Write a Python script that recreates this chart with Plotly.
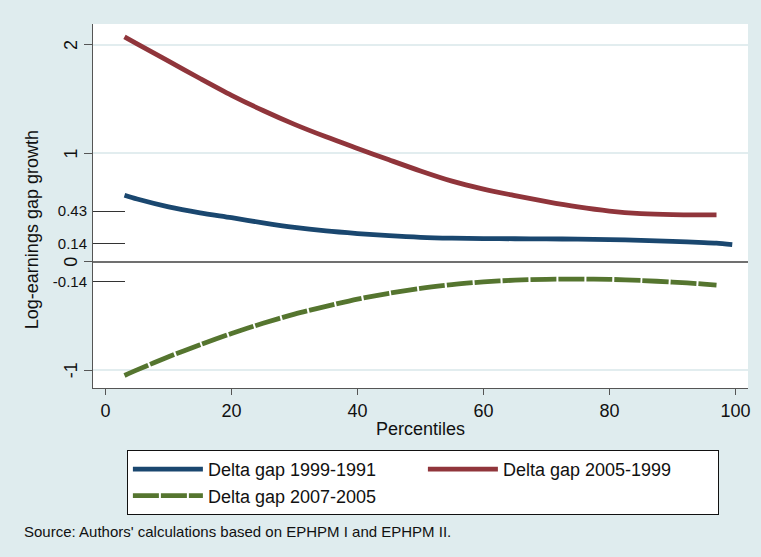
import plotly.graph_objects as go

# ---- data ----
pct = [3, 5, 10, 15, 20, 25, 30, 35, 40, 45, 50, 55, 60, 65, 70, 75, 80, 85, 90, 95, 97]

gap_1999_1991 = [0.613, 0.578, 0.506, 0.451, 0.406, 0.358, 0.316, 0.284, 0.260, 0.240, 0.225,
                 0.217, 0.213, 0.212, 0.211, 0.208, 0.204, 0.197, 0.187, 0.177, 0.171]
pct_blue_tail = [99.5]
gap_1999_1991_tail = [0.158]

gap_2005_1999 = [2.075, 2.01, 1.85, 1.69, 1.535, 1.395, 1.267, 1.152, 1.045, 0.940, 0.837,
                 0.743, 0.670, 0.610, 0.554, 0.505, 0.467, 0.444, 0.434, 0.432, 0.432]

gap_2007_2005 = [-1.05, -0.998, -0.877, -0.766, -0.662, -0.568, -0.483, -0.412, -0.345, -0.291,
                 -0.246, -0.211, -0.186, -0.170, -0.162, -0.160, -0.163, -0.173, -0.188, -0.206, -0.215]

series_names = ["Delta gap 1999-1991", "Delta gap 2005-1999", "Delta gap 2007-2005"]

x_ticks = [0, 20, 40, 60, 80, 100]
y_major_ticks = [-1, 0, 1, 2]
y_major_labels = ["-1", "0", "1", "2"]
# secondary labels sit at the curve end points
y_minor_pos = [0.467, 0.17, -0.184]
y_minor_labels = ["0.43", "0.14", "-0.14"]

BG = "#DFECEE"
GRID = "#E2EDEF"
FONT = "Liberation Sans, Arial, sans-serif"
X_RANGE = [-2.0, 102.0]
Y_RANGE = [-1.165, 2.193]

fig = go.Figure()

fig.add_trace(go.Scatter(
    x=pct + pct_blue_tail, y=gap_1999_1991 + gap_1999_1991_tail, mode="lines",
    name=series_names[0], line=dict(color="#1A476F", width=4.8, shape="spline", smoothing=0.8),
))
fig.add_trace(go.Scatter(
    x=pct, y=gap_2005_1999, mode="lines",
    name=series_names[1], line=dict(color="#90353B", width=4.8, shape="spline", smoothing=0.8),
))
fig.add_trace(go.Scatter(
    x=pct, y=gap_2007_2005, mode="lines",
    name=series_names[2],
    line=dict(color="#55752F", width=4.8, shape="spline", smoothing=0.8, dash="26px,2px"),
))
# helper trace so the second (label) axis is rendered
fig.add_trace(go.Scatter(x=[None], y=[None], yaxis="y2", showlegend=False, hoverinfo="skip"))

# rotated major y tick labels, placed on the y scale
major_label_annotations = [
    dict(text=lab, textangle=-90, font=dict(size=18), xref="paper", yref="y",
         x=(71 - 93) / 657, y=val, xanchor="center", yanchor="middle", showarrow=False)
    for val, lab in zip(y_major_ticks, y_major_labels)
]

fig.update_layout(
    width=761, height=557,
    paper_bgcolor=BG, plot_bgcolor="white",
    margin=dict(l=93, r=11, t=24, b=169),
    font=dict(family=FONT, size=17, color="#111111"),
    xaxis=dict(
        range=X_RANGE, tickvals=x_ticks, showgrid=False, zeroline=False,
        showline=True, linecolor="#555555", linewidth=1,
        ticks="outside", ticklen=6, tickcolor="#555555",
        tickfont=dict(size=18),
        title=dict(text="Percentiles", font=dict(size=18), standoff=2),
    ),
    yaxis=dict(
        range=Y_RANGE, tickvals=y_major_ticks, showticklabels=False,
        showgrid=True, gridcolor=GRID, gridwidth=1.5,
        zeroline=True, zerolinecolor="#707070", zerolinewidth=1.5,
        showline=True, linecolor="#555555", linewidth=1,
        ticks="outside", ticklen=8, tickcolor="#555555",
    ),
    yaxis2=dict(
        range=Y_RANGE, overlaying="y", side="left", anchor="x",
        tickvals=y_minor_pos, ticktext=y_minor_labels,
        showgrid=False, zeroline=False, showline=False,
        ticks="inside", ticklen=32, tickcolor="#333333", tickwidth=1,
        tickfont=dict(size=15), ticklabelstandoff=5,
    ),
    legend=dict(
        orientation="h", x=(127 - 93) / 657, y=(388 - 450) / 364, xanchor="left", yanchor="top",
        bgcolor="white", bordercolor="#111111", borderwidth=1,
        font=dict(size=18), entrywidth=210, entrywidthmode="pixels",
        itemwidth=70, tracegroupgap=0,
    ),
    annotations=major_label_annotations + [
        dict(text="Log-earnings gap growth", textangle=-90, font=dict(size=18),
             xref="paper", yref="paper", x=(32 - 93) / 657, y=(388 - 230) / 364,
             xanchor="center", yanchor="middle", showarrow=False),
        dict(text="Source: Authors' calculations based on EPHPM I and EPHPM II.",
             font=dict(size=15), xref="paper", yref="paper",
             x=(22 - 93) / 657, y=(388 - 531) / 364, xanchor="left", yanchor="middle",
             showarrow=False),
    ],
    showlegend=True,
)

fig.write_html("out.html", config={"displayModeBar": False},
               post_script="document.body.style.margin='0px';")
